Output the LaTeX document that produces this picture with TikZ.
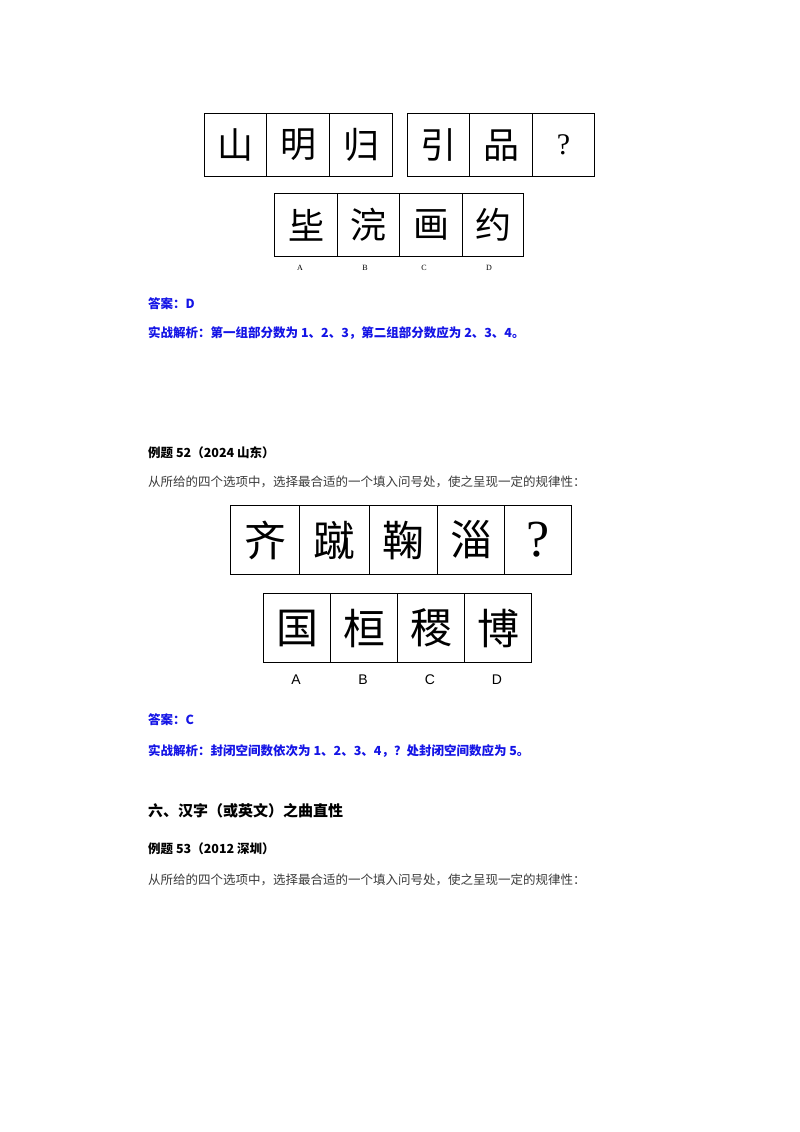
\documentclass[tikz,border=0pt]{standalone}
\usepackage{fontspec}
\setmainfont{Noto Sans CJK SC}
\newfontfamily\cjk{Noto Sans CJK SC}
\newfontfamily\lat{Liberation Serif}
\newfontfamily\latsans{Liberation Sans}
\definecolor{ansblue}{RGB}{20,20,230}
\definecolor{txtgray}{RGB}{60,60,60}
\begin{document}
\begin{tikzpicture}[x=1pt,y=-1pt,
  cell/.style={draw,line width=1.2pt,inner sep=0pt,anchor=north west},
  txt/.style={anchor=west,inner sep=0pt},
  blue/.style={txt,text=ansblue,font=\cjk\fontsize{12.5}{12.5}\selectfont\bfseries},
  head/.style={txt,font=\cjk\fontsize{12.5}{12.5}\selectfont\bfseries},
  instr/.style={txt,text=txtgray,font=\cjk\fontsize{12.5}{12.5}\selectfont}]
\useasboundingbox (0,0) rectangle (800,1132);
\fill[white] (0,0) rectangle (800,1132);
% first puzzle
\foreach \x/\w/\ch [count=\i] in {204/62/山,266/63/明,329/63/归,407/62/引,469/63/品}{
  \node[cell,minimum width=\w pt,minimum height=63pt,font=\cjk\fontsize{36}{36}\selectfont] (t\i) at (\x,113) {\ch};}
\node[cell,minimum width=62pt,minimum height=63pt,font=\lat\fontsize{30}{30}\selectfont] (t6) at (532,113) {?};
\node[cell,minimum width=63pt,minimum height=63pt,font=\cjk\fontsize{36}{36}\selectfont] (o1) at (274,193) {坒};
\node[cell,minimum width=62pt,minimum height=63pt,font=\cjk\fontsize{36}{36}\selectfont] (o2) at (337,193) {浣};
\node[cell,minimum width=63pt,minimum height=63pt,font=\cjk\fontsize{36}{36}\selectfont] (o3) at (399,193) {画};
\node[cell,minimum width=61pt,minimum height=63pt,font=\cjk\fontsize{36}{36}\selectfont] (o4) at (462,193) {约};
\node[font=\lat\fontsize{8}{8}\selectfont,inner sep=0pt] (ol1) at (300,268) {A};
\node[font=\lat\fontsize{8}{8}\selectfont,inner sep=0pt] (ol2) at (365,268) {B};
\node[font=\lat\fontsize{8}{8}\selectfont,inner sep=0pt] (ol3) at (424,268) {C};
\node[font=\lat\fontsize{8}{8}\selectfont,inner sep=0pt] (ol4) at (489,268) {D};
\node[blue] (ans1) at (148,304) {答案：D};
\node[blue] (exp1) at (148,333) {实战解析：第一组部分数为 1、2、3，第二组部分数应为 2、3、4。};
% example 52
\node[head] (h52) at (148,453) {例题 52（2024 山东）};
\node[instr] (in52) at (148,482) {从所给的四个选项中，选择最合适的一个填入问号处，使之呈现一定的规律性：};
\foreach \x/\w/\ch [count=\i] in {230/69/齐,299/70/蹴,369/68/鞠,437/67/淄}{
  \node[cell,minimum width=\w pt,minimum height=69pt,font=\cjk\fontsize{42}{42}\selectfont] (b\i) at (\x,505) {\ch};}
\node[cell,minimum width=67pt,minimum height=69pt,font=\lat\fontsize{52}{52}\selectfont] (b5) at (504,505) {?};
\node[cell,minimum width=67pt,minimum height=69pt,font=\cjk\fontsize{42}{42}\selectfont] (p1) at (263,593) {国};
\node[cell,minimum width=67pt,minimum height=69pt,font=\cjk\fontsize{42}{42}\selectfont] (p2) at (330,593) {桓};
\node[cell,minimum width=67pt,minimum height=69pt,font=\cjk\fontsize{42}{42}\selectfont] (p3) at (397,593) {稷};
\node[cell,minimum width=67pt,minimum height=69pt,font=\cjk\fontsize{42}{42}\selectfont] (p4) at (464,593) {博};
\node[font=\latsans\fontsize{14}{14}\selectfont,inner sep=0pt] (pl1) at (296,680) {A};
\node[font=\latsans\fontsize{14}{14}\selectfont,inner sep=0pt] (pl2) at (363,680) {B};
\node[font=\latsans\fontsize{14}{14}\selectfont,inner sep=0pt] (pl3) at (430,680) {C};
\node[font=\latsans\fontsize{14}{14}\selectfont,inner sep=0pt] (pl4) at (497,680) {D};
\node[blue] (ans2) at (148,720) {答案：C};
\node[blue] (exp2) at (148,751) {实战解析：封闭空间数依次为 1、2、3、4，？处封闭空间数应为 5。};
\node[head,font=\cjk\fontsize{15}{15}\selectfont\bfseries] (sec6) at (148,811) {六、汉字（或英文）之曲直性};
\node[head] (h53) at (148,849) {例题 53（2012 深圳）};
\node[instr] (in53) at (148,880) {从所给的四个选项中，选择最合适的一个填入问号处，使之呈现一定的规律性：};
\end{tikzpicture}
\end{document}
